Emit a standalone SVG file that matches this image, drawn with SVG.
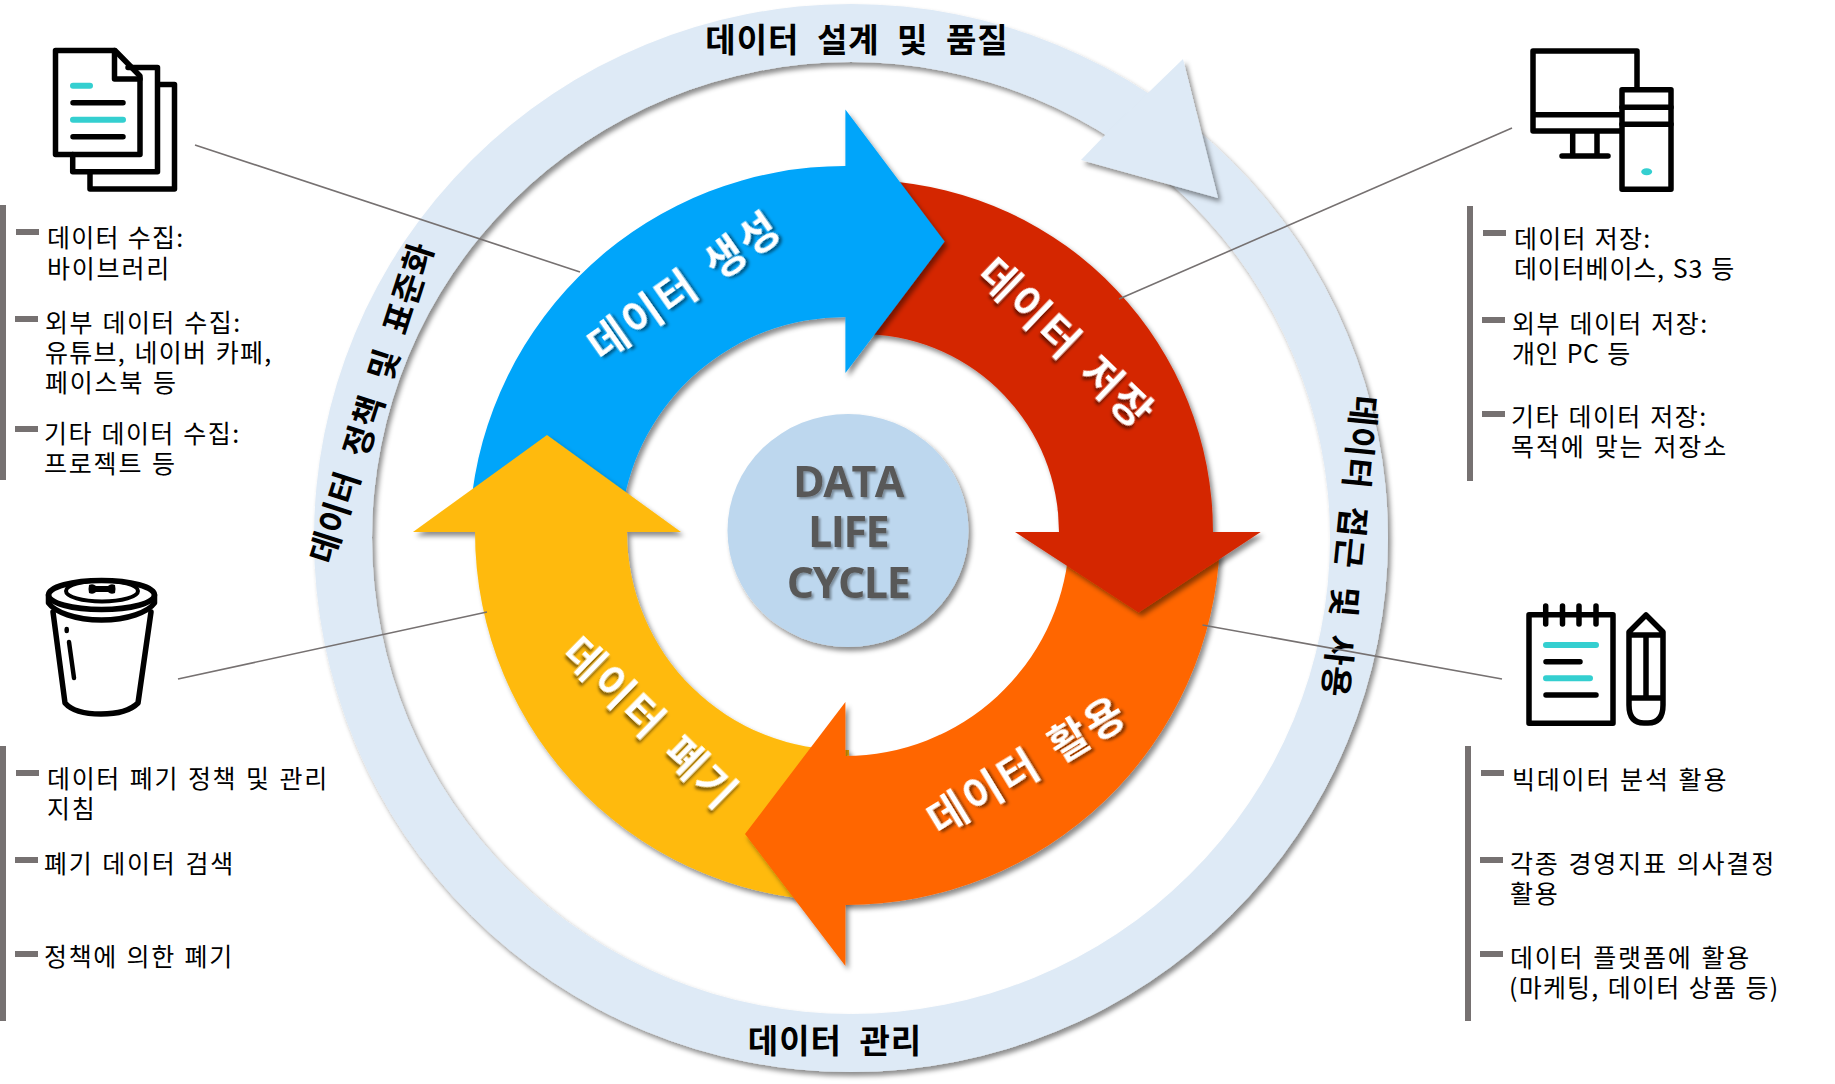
<svg xmlns="http://www.w3.org/2000/svg" width="1835" height="1084" viewBox="0 0 1835 1084">
<style>
.body{font-family:"Noto Sans CJK KR","Noto Sans",sans-serif;font-size:25px;letter-spacing:1.8px;word-spacing:1.5px;fill:#000}
.ringt{font-family:"Noto Sans CJK KR","Noto Sans",sans-serif;font-size:33px;font-weight:700;letter-spacing:1px;word-spacing:9px;fill:#000;text-anchor:middle}
.lab{font-family:"Noto Sans CJK KR","Noto Sans",sans-serif;font-size:42px;font-weight:700;letter-spacing:2.4px;word-spacing:7px;fill:#fff;text-anchor:middle;filter:url(#ts)}
.ct{font-family:"Open Sans","Noto Sans",sans-serif;font-size:43px;font-weight:700;letter-spacing:-1.5px;fill:#595959;text-anchor:middle;filter:url(#ts2)}
.bar{fill:#767171}
.conn{stroke:#767171;stroke-width:1.6;fill:none}
.ic{fill:none;stroke:#000;stroke-width:5.5;stroke-linejoin:round;stroke-linecap:round}
.te{fill:none;stroke:#34CFD0;stroke-width:6;stroke-linecap:round}
.sh{filter:url(#sh)}
</style>
<defs>
<filter id="sh" x="-10%" y="-10%" width="120%" height="120%"><feDropShadow dx="3" dy="4" stdDeviation="2.5" flood-color="#000" flood-opacity="0.45"/></filter>
<filter id="ts" x="-10%" y="-15%" width="120%" height="130%"><feDropShadow dx="2" dy="3" stdDeviation="1.5" flood-color="#000" flood-opacity="0.5"/></filter>
<filter id="ts2" x="-10%" y="-10%" width="120%" height="120%"><feDropShadow dx="2" dy="2" stdDeviation="1.2" flood-color="#000" flood-opacity="0.35"/></filter>
<clipPath id="orangeLeft"><rect x="640" y="640" width="300" height="444"/></clipPath>
<clipPath id="orangeRight"><rect x="940" y="400" width="400" height="684"/></clipPath>
<path id="orangeShape" fill="#FF6600" d="M1219.8,545 A374.5 374.5 0 0 1 845.4,905 V966 L745,834 L845.4,702 V756 A225 225 0 0 0 1068.8,550 Z"/>
</defs>
<rect width="1835" height="1084" fill="#fff"/>

<g id="ring">
<path class="sh" fill="#DEEAF6" fill-rule="evenodd" d="M314,538 A537 534 0 1 1 1388,538 A537 534 0 1 1 314,538 Z M372,538 A479 476 0 1 0 1330,538 A479 476 0 1 0 372,538 Z"/>
<polygon class="sh" fill="#DEEAF6" points="1183,59 1218,198 1081,160 1107,133 1149,92"/>
<text class="ringt" x="857" y="52">데이터 설계 및 품질</text>
<text class="ringt" transform="translate(371.5 402.5) rotate(-72.2)" y="12">데이터 정책 및 표준화</text>
<text class="ringt" transform="translate(1350 546.5) rotate(95.7)" y="12">데이터 접근 및 사용</text>
<text class="ringt" x="835" y="1053">데이터 관리</text>
</g>

<g id="cycle-orange-base"><use href="#orangeShape" class="sh" clip-path="url(#orangeRight)"/></g>
<g id="cycle-red">
<path class="sh" fill="#D42800" d="M880,180.5 A352 352 0 0 1 1213,532 H1260.7 L1138.6,612.5 L1015,532 H1059 A198 198 0 0 0 870,334.2 Z"/>
<text class="lab" transform="translate(1066.8 342.8) rotate(43.9)" y="16">데이터 저장</text>
</g>
<g id="cycle-blue">
<path class="sh" fill="#00A5FA" d="M470.4,510 A376 376 0 0 1 845.4,166 V109.5 L944.6,241.5 L845.4,373 V317 A225 225 0 0 0 622.3,510 Z"/>
<text class="lab" transform="translate(684 285.5) rotate(-35)" y="16">데이터 생성</text>
</g>
<g id="cycle-yellow">
<path class="sh" fill="#FFBA0A" d="M475,532 A369 369 0 0 0 849,901 L849,750 A218 218 0 0 1 627,532 H681 L547,435 L413,532 Z"/>
<text class="lab" transform="translate(651 722.4) rotate(44.4)" y="16">데이터 폐기</text>
</g>
<g id="cycle-orange">
<use href="#orangeShape" class="sh" clip-path="url(#orangeLeft)"/>
<text class="lab" transform="translate(1026.5 765) rotate(-31.3)" y="16">데이터 활용</text>
</g>

<g id="center">
<ellipse class="sh" cx="848" cy="530.5" rx="120.5" ry="116.5" fill="#BDD7EE"/>
<text class="ct" x="848" y="497">DATA</text>
<text class="ct" x="848" y="547">LIFE</text>
<text class="ct" x="848" y="598">CYCLE</text>
</g>

<g id="connectors">
<line class="conn" x1="195" y1="145" x2="580" y2="272"/>
<line class="conn" x1="1512" y1="128" x2="1119" y2="299"/>
<line class="conn" x1="178" y1="679" x2="487" y2="612"/>
<line class="conn" x1="1502" y1="679" x2="1202.5" y2="625"/>
</g>

<g id="icon-docs">
<path class="ic" d="M55.5 50.5H115L140 76V154.5H55.5Z"/>
<path class="ic" d="M114.5 50.5V79H140"/>
<path class="ic" d="M128 67.5H157.5V171.7H72.7V154.5"/>
<path class="ic" d="M160 84.5H174.5V189H90V172"/>
<path class="te" d="M73 85.7H90M73 119.7H123"/>
<path class="ic" d="M73 102.7H123M73 136.7H123"/>
</g>
<g id="icon-pc">
<path class="ic" d="M1637 87V51H1533V131H1620M1533 114.7H1620M1572.7 131V156M1597 131V156M1562 156H1608"/>
<rect class="ic" x="1622" y="89.7" width="49" height="99.5"/>
<path class="ic" d="M1622 107.3H1671M1622 124.3H1671"/>
<ellipse cx="1646.7" cy="171.7" rx="5.5" ry="3.5" fill="#34CFD0"/>
</g>
<g id="icon-trash">
<ellipse class="ic" cx="101.5" cy="595" rx="53" ry="14.5"/>
<ellipse class="ic" cx="102" cy="591" rx="36" ry="10.5" style="stroke-width:4"/>
<path fill="#000" d="M89 585Q93 583 96 586H108Q111 583 115 585Q116 589 115 593Q111 595 108 592H96Q93 595 89 593Q88 589 89 585Z"/>
<path class="ic" d="M48.5 595V603C55 612 75 620 101.5 620S148 612 154.5 603V595"/>
<path class="ic" d="M53 612L65 703C72 711 85 714 101 714S130 711 138 703L151 612"/>
<path class="ic" d="M66.7 629V631M69 642L74 678" style="stroke-width:4.5"/>
</g>
<g id="icon-notepad">
<rect class="ic" x="1529" y="614.7" width="84" height="108.5"/>
<path class="ic" d="M1545.7 606V624M1562.5 606V624M1579 606V624M1596 606V624"/>
<path class="te" d="M1546 645H1596M1546 678.3H1590"/>
<path class="ic" d="M1546 661.7H1580M1546 695H1596"/>
<path class="ic" d="M1629 632L1646 615L1663 632V705Q1663 723 1648 723H1644Q1629 723 1629 705ZM1629 635H1663M1629 698H1663M1646 635V698"/>
</g>

<g id="list-collect">
<rect class="bar" x="0" y="205" width="6" height="275"/>
<rect class="bar" x="16" y="229" width="23" height="6"/>
<rect class="bar" x="15" y="316" width="23" height="6"/>
<rect class="bar" x="15" y="426" width="23" height="6"/>
<text class="body" x="47" y="247" textLength="138">데이터 수집:</text>
<text class="body" x="47" y="278">바이브러리</text>
<text class="body" x="45" y="332" textLength="197">외부 데이터 수집:</text>
<text class="body" x="45" y="362" textLength="228">유튜브, 네이버 카페,</text>
<text class="body" x="45" y="392">페이스북 등</text>
<text class="body" x="44" y="443" textLength="197">기타 데이터 수집:</text>
<text class="body" x="44" y="473">프로젝트 등</text>
</g>
<g id="list-dispose">
<rect class="bar" x="0" y="746" width="6" height="275"/>
<rect class="bar" x="16" y="770" width="23" height="6"/>
<rect class="bar" x="15" y="857" width="23" height="6"/>
<rect class="bar" x="15" y="951" width="23" height="6"/>
<text class="body" x="47" y="788" textLength="282">데이터 폐기 정책 및 관리</text>
<text class="body" x="47" y="818">지침</text>
<text class="body" x="44" y="873" textLength="191">폐기 데이터 검색</text>
<text class="body" x="44" y="966" textLength="190">정책에 의한 폐기</text>
</g>
<g id="list-store">
<rect class="bar" x="1467" y="206" width="6" height="275"/>
<rect class="bar" x="1483" y="230" width="23" height="6"/>
<rect class="bar" x="1482" y="317" width="23" height="6"/>
<rect class="bar" x="1482" y="411" width="23" height="6"/>
<text class="body" x="1514" y="248" textLength="138">데이터 저장:</text>
<text class="body" x="1514" y="278" textLength="222">데이터베이스, S3 등</text>
<text class="body" x="1512" y="333" textLength="197">외부 데이터 저장:</text>
<text class="body" x="1512" y="363" textLength="120">개인 PC 등</text>
<text class="body" x="1511" y="426" textLength="197">기타 데이터 저장:</text>
<text class="body" x="1511" y="456" textLength="217">목적에 맞는 저장소</text>
</g>
<g id="list-use">
<rect class="bar" x="1465" y="746" width="6" height="275"/>
<rect class="bar" x="1481" y="770" width="23" height="6"/>
<rect class="bar" x="1480" y="857" width="23" height="6"/>
<rect class="bar" x="1480" y="951" width="23" height="6"/>
<text class="body" x="1512" y="789">빅데이터 분석 활용</text>
<text class="body" x="1510" y="873" textLength="266">각종 경영지표 의사결정</text>
<text class="body" x="1510" y="903">활용</text>
<text class="body" x="1510" y="967">데이터 플랫폼에 활용</text>
<text class="body" x="1509" y="997" textLength="271">(마케팅, 데이터 상품 등)</text>
</g>
</svg>
